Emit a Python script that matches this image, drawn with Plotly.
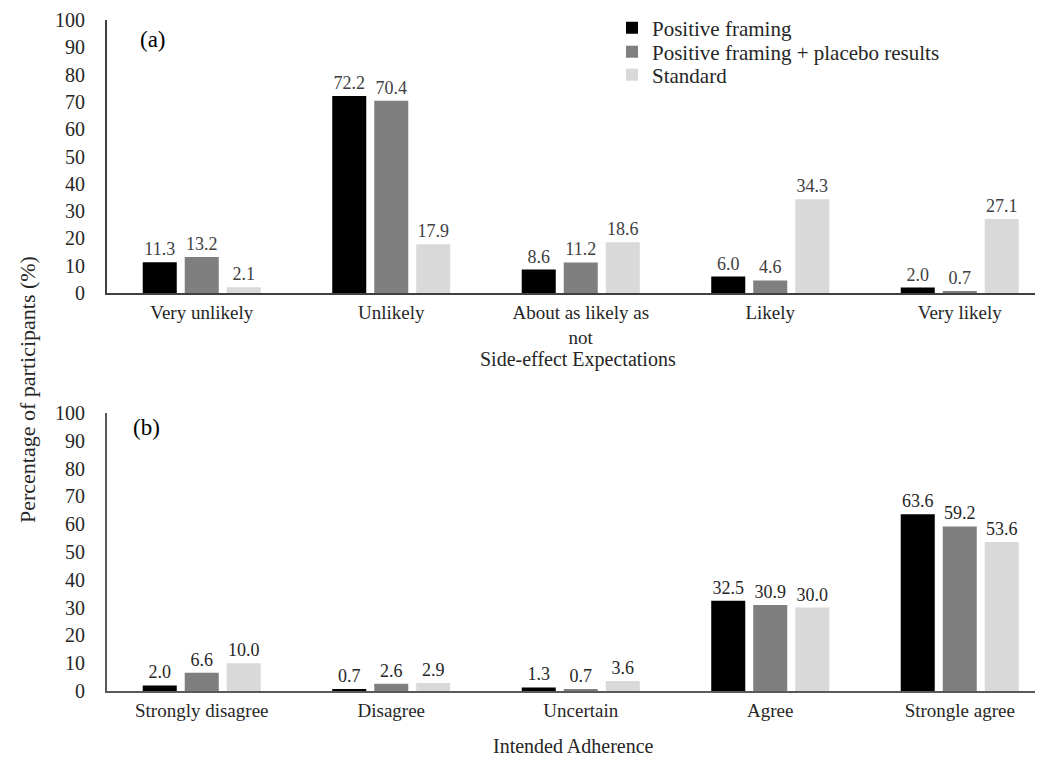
import plotly.graph_objects as go

series_names = ["Positive framing", "Positive framing + placebo results", "Standard"]
colors = ["#000000", "#7f7f7f", "#d9d9d9"]

cats_a = ["Very unlikely", "Unlikely", "About as likely as<br>not", "Likely", "Very likely"]
vals_a = [
    [11.3, 72.2, 8.6, 6.0, 2.0],
    [13.2, 70.4, 11.2, 4.6, 0.7],
    [2.1, 17.9, 18.6, 34.3, 27.1],
]

cats_b = ["Strongly disagree", "Disagree", "Uncertain", "Agree", "Strongle agree"]
vals_b = [
    [2.0, 0.7, 1.3, 32.5, 63.6],
    [6.6, 2.6, 0.7, 30.9, 59.2],
    [10.0, 2.9, 3.6, 30.0, 53.6],
]

yticks = [0, 10, 20, 30, 40, 50, 60, 70, 80, 90, 100]

FONT = "Liberation Serif, Times New Roman, serif"
OFF = 8               # page body margin
W, H = 1043 - OFF, 760 - OFF

def px(sx):
    return (sx - OFF) / W

def py(sy):
    return 1 - (sy - OFF) / H

legend_keys = ["legend", "legend2", "legend3"]

fig = go.Figure()
for i, name in enumerate(series_names):
    fig.add_trace(go.Bar(
        x=cats_a, y=vals_a[i], name=name, marker_color=colors[i],
        marker_line_width=0,
        text=[f"{v:.1f}" for v in vals_a[i]], textposition="outside",
        textfont=dict(family=FONT, size=18, color="#404040"),
        cliponaxis=False, xaxis="x", yaxis="y", legend=legend_keys[i],
    ))
for i, name in enumerate(series_names):
    fig.add_trace(go.Bar(
        x=cats_b, y=vals_b[i], name=name, marker_color=colors[i],
        marker_line_width=0,
        text=[f"{v:.1f}" for v in vals_b[i]], textposition="outside",
        textfont=dict(family=FONT, size=18, color="#262626"),
        cliponaxis=False, xaxis="x2", yaxis="y2", showlegend=False,
    ))

slot = 189.5
x0 = px(107)
xr = [-0.5, -0.5 + (W - (107 - OFF)) / slot]

xcommon = dict(showgrid=False, zeroline=False, ticks="", automargin=False,
               type="category", range=xr, domain=[x0, 1],
               tickfont=dict(family=FONT, size=19, color="#262626"))
ycommon = dict(showgrid=False, zeroline=False, ticks="", automargin=False,
               range=[0, 100], tickvals=yticks, ticklabelstandoff=16,
               tickfont=dict(family=FONT, size=20, color="#262626"))

legend_rows = [28, 52, 75]
legends = {}
for k, sy in zip(legend_keys, legend_rows):
    legends[k] = dict(x=px(612), y=py(sy), xanchor="left", yanchor="middle",
                      font=dict(family=FONT, size=21, color="#262626"),
                      bgcolor="rgba(0,0,0,0)", itemwidth=30)

fig.update_layout(
    width=W, height=H,
    margin=dict(l=0, r=0, t=0, b=0, autoexpand=False),
    paper_bgcolor="white", plot_bgcolor="white",
    barmode="group", bargap=0.335, bargroupgap=0.19,
    font=dict(family=FONT, color="#262626"),
    xaxis=dict(anchor="y", showline=True, linecolor="#404040", linewidth=2,
               ticklabelstandoff=1, **xcommon),
    yaxis=dict(domain=[py(293), py(20)], anchor="x", showline=True,
               linecolor="#404040", linewidth=2, **ycommon),
    xaxis2=dict(anchor="y2", showline=True, linecolor="#595959", linewidth=2,
                ticklabelstandoff=1, **xcommon),
    yaxis2=dict(domain=[py(691), py(413)], anchor="x2", showline=True,
                linecolor="#595959", linewidth=2, **ycommon),
    **legends,
    annotations=[
        dict(text="(a)", x=px(153), y=py(40), xanchor="center", yanchor="middle",
             xref="paper", yref="paper", showarrow=False,
             font=dict(family=FONT, size=23, color="#000000")),
        dict(text="(b)", x=px(146), y=py(428), xanchor="center", yanchor="middle",
             xref="paper", yref="paper", showarrow=False,
             font=dict(family=FONT, size=23, color="#000000")),
        dict(text="Side-effect Expectations", x=px(578), y=py(359),
             xanchor="center", yanchor="middle",
             xref="paper", yref="paper", showarrow=False,
             font=dict(family=FONT, size=20, color="#262626")),
        dict(text="Intended Adherence", x=px(573), y=py(746),
             xanchor="center", yanchor="middle",
             xref="paper", yref="paper", showarrow=False,
             font=dict(family=FONT, size=20, color="#262626")),
        dict(text="Percentage of participants (%)", x=px(27), y=py(390),
             xanchor="center", yanchor="middle", textangle=-90,
             xref="paper", yref="paper", showarrow=False,
             font=dict(family=FONT, size=22, color="#262626")),
    ],
)

fig.write_html("out.html")
